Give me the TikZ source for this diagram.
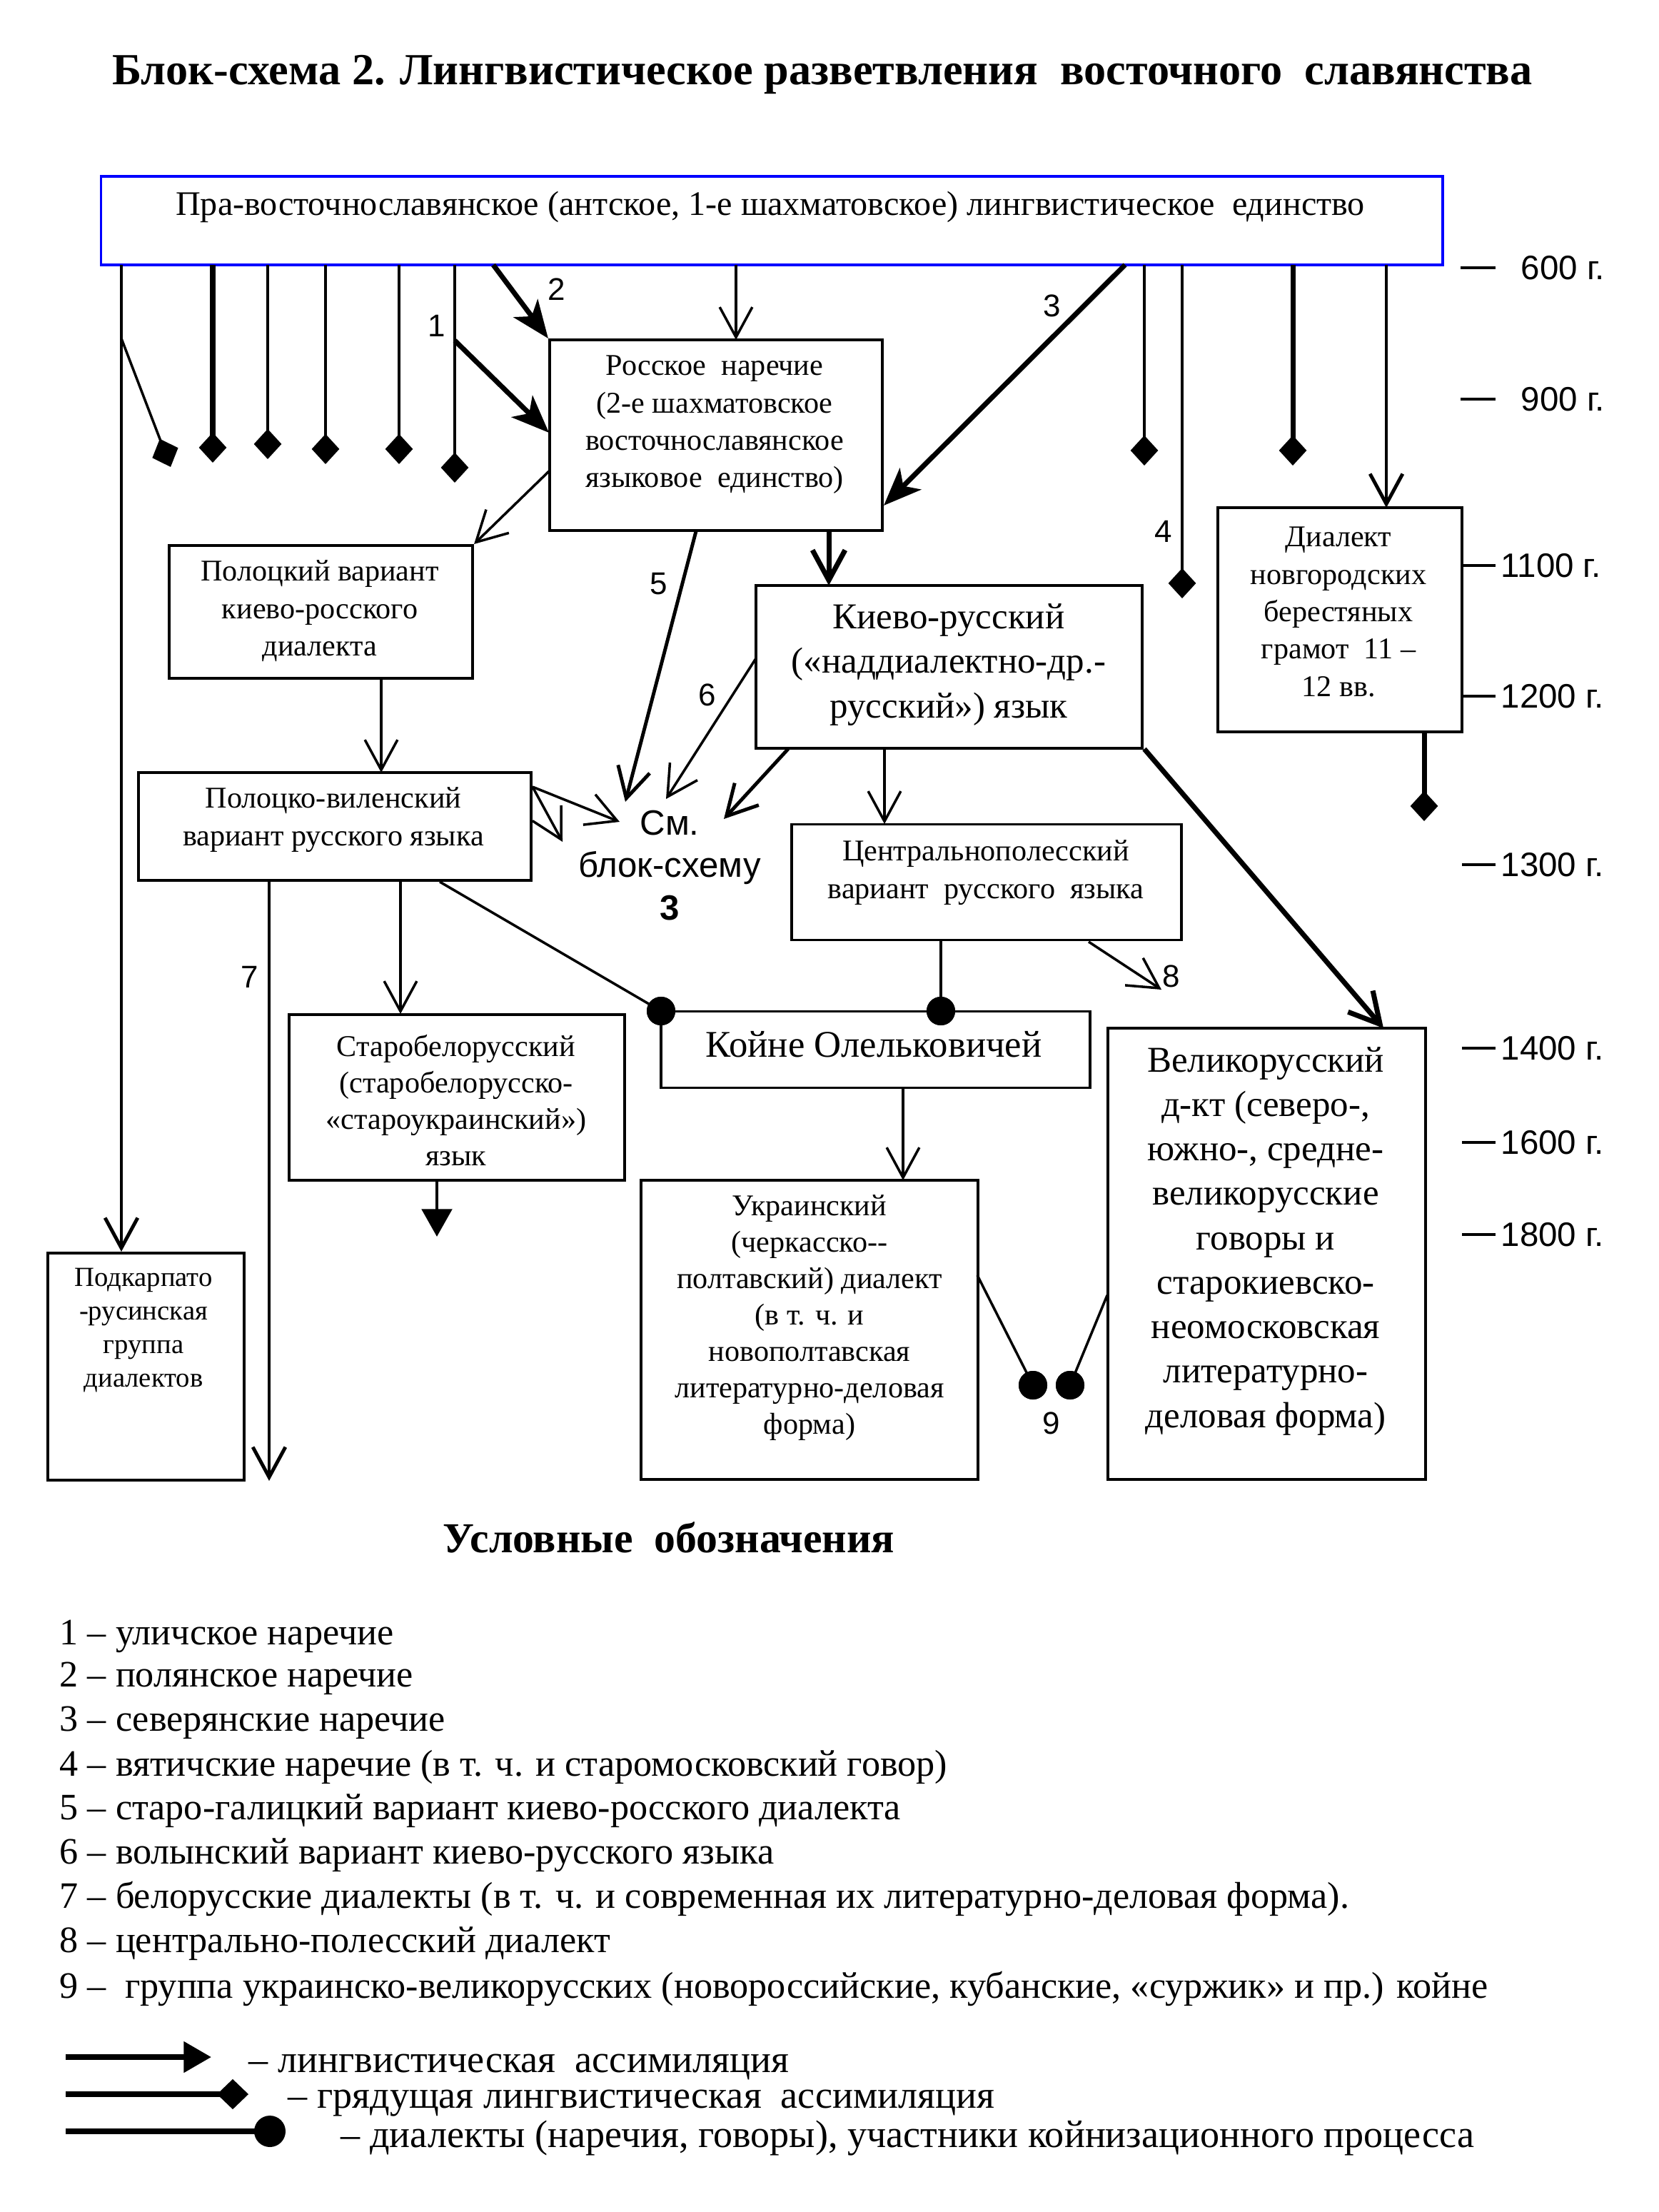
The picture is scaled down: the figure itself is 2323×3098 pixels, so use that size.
\documentclass[tikz,border=0pt]{standalone}
\usepackage{fontspec}
\setmainfont{Liberation Serif}
\setsansfont{Liberation Sans}
\usetikzlibrary{arrows.meta}
\begin{document}
\begin{tikzpicture}[x=0.01cm,y=-0.01cm,
  box/.style={draw, line width=1.1pt, inner sep=0pt},
  txt/.style={align=center, inner sep=0pt},
  fa/.style={font=\fontsize{12}{14.5}\selectfont},
  fb/.style={font=\fontsize{12}{14.9}\selectfont},
  fc/.style={font=\fontsize{14.5}{17.7}\selectfont},
  thinl/.style={line width=1pt},
  medl/.style={line width=1.4pt},
  thickl/.style={line width=2pt},
  opn/.style={-{Straight Barb[length=12pt,width=13pt]}},
  fil/.style={-{Stealth[length=15pt,width=12pt,inset=4pt]}},
  dia/.style={-{Diamond[length=12pt,width=11pt]}},
  tri/.style={-{Triangle[length=11pt,width=12pt]}},
  dot/.style={circle, fill, inner sep=0pt, minimum size=0.4cm},
  num/.style={font=\sffamily\fontsize{12.5}{14}\selectfont, inner sep=0pt},
  yr/.style={font=\sffamily\fontsize{13.5}{15}\selectfont, anchor=west, inner sep=0pt},
  tick/.style={line width=1.2pt},
  leg/.style={font=\fontsize{14.85}{17}\selectfont, anchor=west, inner sep=0pt},
  legs/.style={font=\fontsize{15.4}{17}\selectfont, anchor=west, inner sep=0pt},
]
\fill[white] (0,0) rectangle (2323,3098);
\useasboundingbox (0,0) rectangle (2323,3098);

% title
\node[font=\bfseries\fontsize{17.7}{20}\selectfont, inner sep=0pt] (title) at (1152,105)
  {Блок-схема 2. Лингвистическое разветвления~ восточного~ славянства};

% boxes
\node[box, draw=blue, minimum width=18.78cm, minimum height=1.24cm] (top) at (1081,309) {};
\node[txt, font=\fontsize{13.7}{15}\selectfont] (topT) at (1079,290)
  {Пра-восточнославянское (антское, 1-е шахматовское) лингвистическое~ единство};

\node[box, minimum width=4.66cm, minimum height=2.67cm] (ross) at (1003,609.5) {};
\node[txt, fb] (rossT) at (1001,595)
  {Росское~ наречие\\(2-е шахматовское\\восточнославянское\\языковое~ единство)};

\node[box, minimum width=4.25cm, minimum height=1.86cm] (pol) at (449.5,857) {};
\node[txt, fb] (polT) at (448,856) {Полоцкий вариант\\киево-росского\\диалекта};

\node[box, minimum width=5.41cm, minimum height=2.27cm] (kiev) at (1329.5,934) {};
\node[txt, fc] (kievT) at (1329,931) {Киево-русский\\(«наддиалектно-др.-\\русский») язык};

\node[box, minimum width=3.42cm, minimum height=3.14cm] (nov) at (1877,868) {};
\node[txt, fb] (novT) at (1875,857) {Диалект\\новгородских\\берестяных\\грамот~ 11 –\\12 вв.};

\node[box, minimum width=5.49cm, minimum height=1.51cm] (polv) at (469,1157.5) {};
\node[txt, fb] (polvT) at (467,1148) {Полоцко-виленский\\вариант русского языка};

\node[txt, font=\sffamily\fontsize{14}{16.9}\selectfont] (see) at (938,1212) {См.\\блок-схему\\\textbf{3}};

\node[box, minimum width=5.46cm, minimum height=1.62cm] (cen) at (1382,1235.5) {};
\node[txt, fb] (cenT) at (1381,1222) {Центральнополесский\\вариант~ русского~ языка};

\node[box, minimum width=6.01cm, minimum height=1.07cm] (koine) at (1226.5,1470) {};
\node[txt, font=\fontsize{15}{17.7}\selectfont] (koineT) at (1224,1463) {Койне Олельковичей};

\node[box, minimum width=4.70cm, minimum height=2.32cm] (stb) at (640,1537) {};
\node[txt, fa] (stbT) at (639,1541) {Старобелорусский\\(старобелорусско-\\«староукраинский»)\\язык};

\node[box, minimum width=4.71cm, minimum height=4.19cm] (ukr) at (1134,1862.5) {};
\node[txt, fa] (ukrT) at (1134,1846) {Украинский\\(черкасско-{}-\\полтавский) диалект\\(в т. ч. и\\новополтавская\\литературно-деловая\\форма)};

\node[box, minimum width=4.45cm, minimum height=6.32cm] (vel) at (1774.5,1756) {};
\node[txt, fc] (velT) at (1773,1738) {Великорусский\\д-кт (северо-,\\южно-, средне-\\великорусские\\говоры и\\старокиевско-\\неомосковская\\литературно-\\деловая форма)};

\node[box, minimum width=2.75cm, minimum height=3.18cm] (pod) at (204.5,1914) {};
\node[txt, font=\fontsize{11}{13.3}\selectfont] (podT) at (201,1863) {Подкарпато\\-русинская\\группа\\диалектов};

% dots
\node[dot] (d1) at (926,1416) {};
\node[dot] (d2) at (1318,1416) {};
\node[dot] (d3) at (1447,1940) {};
\node[dot] (d4) at (1499,1940) {};

% coordinates
\coordinate (s1) at (170,371);
\coordinate (b1) at (170,474);
\coordinate (e1) at (239,654);
\coordinate (s2) at (298,371);  \coordinate (e2) at (298,648);
\coordinate (s3) at (375,371);  \coordinate (e3) at (375,643);
\coordinate (s4) at (456,371);  \coordinate (e4) at (456,650);
\coordinate (s5) at (559,371);  \coordinate (e5) at (559,650);
\coordinate (s6) at (637,371);  \coordinate (e6) at (637,676);
\coordinate (b6) at (637,477);  \coordinate (r1) at (769,606);
\coordinate (s7) at (691,371);
\coordinate (s8) at (1031,371); \coordinate (r8) at (1031,476);
\coordinate (s9) at (1576,371); \coordinate (r9) at (1238,708);
\coordinate (s10) at (1603,371); \coordinate (e10) at (1603,652);
\coordinate (s11) at (1656,371); \coordinate (e11) at (1656,838);
\coordinate (s12) at (1811,371); \coordinate (e12) at (1811,652);
\coordinate (s13) at (1942,371); \coordinate (n13) at (1942,711);
\coordinate (s14) at (1995,1025); \coordinate (e14) at (1995,1150);
\coordinate (r15) at (769,660);
\coordinate (r16) at (975,744);  \coordinate (t5) at (876,1123);
\coordinate (r17) at (1161,744); \coordinate (k17) at (1161,820);
\coordinate (k18) at (1059,922); \coordinate (t6) at (933,1119);
\coordinate (k19) at (1104,1049); \coordinate (t19) at (1014,1147);
\coordinate (k20) at (1239,1049); \coordinate (c20) at (1239,1154);
\coordinate (k21) at (1603,1049); \coordinate (v21) at (1938,1440);
\coordinate (p22) at (534,950);  \coordinate (q22) at (534,1082);
\coordinate (q23) at (746,1102); \coordinate (t23) at (868,1151); \coordinate (t24) at (788,1179);
\coordinate (q25) at (377,1233); \coordinate (e25) at (377,2074);
\coordinate (q26) at (561,1233); \coordinate (b26) at (561,1420);
\coordinate (q27) at (616,1235);
\coordinate (b28) at (612,1653); \coordinate (e28) at (612,1732);
\coordinate (c29) at (1318,1317);
\coordinate (c30) at (1525,1319); \coordinate (e30) at (1627,1386);
\coordinate (k31) at (1265,1523); \coordinate (u31) at (1265,1653);
\coordinate (u32) at (1369,1786);
\coordinate (v33) at (1551,1814);

% connectors from top box
\draw[medl, opn] (s1) -- (s1 |- pod.north);
\draw[thinl, dia] (b1) -- (e1);
\draw[thickl, dia] (s2) -- (e2);
\draw[thinl, dia] (s3) -- (e3);
\draw[thinl, dia] (s4) -- (e4);
\draw[thinl, dia] (s5) -- (e5);
\draw[thinl, dia] (s6) -- (e6);
\draw[thickl, fil] (b6) -- (r1);
\draw[thickl, fil] (s7) -- (ross.north west);
\draw[thinl, opn] (s8) -- (r8);
\draw[thickl, fil] (s9) -- (r9);
\draw[thinl, dia] (s10) -- (e10);
\draw[thinl, dia] (s11) -- (e11);
\draw[thickl, dia] (s12) -- (e12);
\draw[medl, opn] (s13) -- (n13);
\draw[thickl, dia] (s14) -- (e14);

% from ross
\draw[thinl, opn] (r15) -- (pol.north east);
\draw[medl, opn] (r16) -- (t5);
\draw[thickl, opn] (r17) -- (k17);
% from kiev
\draw[thinl, opn] (k18) -- (t6);
\draw[medl, opn] (k19) -- (t19);
\draw[thinl, opn] (k20) -- (c20);
\draw[thickl, opn] (k21) -- (v21);
% polotsk
\draw[thinl, opn] (p22) -- (q22);
\draw[thinl, opn] (q23) -- (t23);
\draw[thinl, opn] (q23) -- (t24);
\draw[medl, opn] (q25) -- (e25);
\draw[thinl, opn] (q26) -- (b26);
\draw[thinl] (q27) -- (d1.center);
\draw[medl, tri] (b28) -- (e28);
% central
\draw[medl] (c29) -- (d2.center);
\draw[thinl, opn] (c30) -- (e30);
\draw[thinl, opn] (k31) -- (u31);
% 9
\draw[thinl] (u32) -- (d3.center);
\draw[thinl] (v33) -- (d4.center);
\node[dot] at (d1) {};
\node[dot] at (d2) {};
\node[dot] at (d3) {};
\node[dot] at (d4) {};

% numbers
\node[num] (n1) at (612,456) {1};
\node[num] (n2) at (780,405) {2};
\node[num] (n3) at (1474,428) {3};
\node[num] (n4) at (1630,744) {4};
\node[num] (n5) at (923,818) {5};
\node[num] (n6) at (991,973) {6};
\node[num] (n7) at (350,1368) {7};
\node[num] (n8) at (1641,1367) {8};
\node[num] (n9) at (1473,1993) {9};

% years
\draw[tick] (2046,375) -- (2095,375);
\node[yr] (y600) at (2130,375) {600 г.};
\draw[tick] (2046,559) -- (2095,559);
\node[yr] (y900) at (2130,559) {900 г.};
\draw[tick] (nov.east |- 0,792) -- (2095,792);
\node[yr] (y1100) at (2102,792) {1100 г.};
\draw[tick] (nov.east |- 0,975) -- (2095,975);
\node[yr] (y1200) at (2102,975) {1200 г.};
\draw[tick] (2048,1211) -- (2095,1211);
\node[yr] (y1300) at (2102,1211) {1300 г.};
\draw[tick] (2048,1468) -- (2095,1468);
\node[yr] (y1400) at (2102,1468) {1400 г.};
\draw[tick] (2048,1600) -- (2095,1600);
\node[yr] (y1600) at (2102,1600) {1600 г.};
\draw[tick] (2048,1729) -- (2095,1729);
\node[yr] (y1800) at (2102,1729) {1800 г.};

% legend
\node[font=\bfseries\fontsize{17}{20}\selectfont, inner sep=0pt] (legh) at (937,2153) {Условные~ обозначения};
\node[leg] (l1) at (83,2292) {1 – уличское наречие};
\node[leg] (l2) at (83,2351) {2 – полянское наречие};
\node[leg] (l3) at (83,2413) {3 – северянские наречие};
\node[leg] (l4) at (83,2475) {4 – вятичские наречие (в т. ч. и старомосковский говор)};
\node[leg] (l5) at (83,2536) {5 – старо-галицкий вариант киево-росского диалекта};
\node[leg] (l6) at (83,2598) {6 – волынский вариант киево-русского языка};
\node[leg] (l7) at (83,2659) {7 – белорусские диалекты (в т. ч. и современная их литературно-деловая форма).};
\node[leg] (l8) at (83,2722) {8 – центрально-полесский диалект};
\node[leg] (l9) at (83,2785) {9 –~ группа украинско-великорусских (новороссийские, кубанские, «суржик» и пр.) койне};

\coordinate (la1) at (92,2881); \coordinate (la2) at (296,2881);
\coordinate (lb1) at (92,2933); \coordinate (lb2) at (348,2933);
\coordinate (lc1) at (92,2985); \coordinate (lc2) at (400,2985);
\draw[line width=2.2pt, -{Triangle[length=11pt,width=12pt]}] (la1) -- (la2);
\draw[line width=2.2pt, -{Diamond[length=12.5pt,width=12pt]}] (lb1) -- (lb2);
\draw[line width=2.2pt, -{Circle[length=12.5pt]}] (lc1) -- (lc2);
\node[legs] (lt1) at (348,2895) {– лингвистическая~ ассимиляция};
\node[legs] (lt2) at (403,2946) {– грядущая лингвистическая~ ассимиляция};
\node[legs] (lt3) at (477,2995) {– диалекты (наречия, говоры), участники койнизационного процесса};
\end{tikzpicture}
\end{document}
